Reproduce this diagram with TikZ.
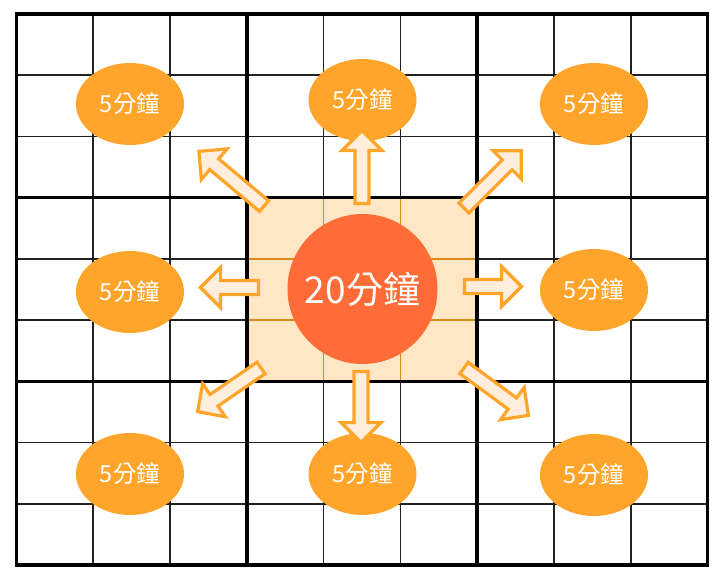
\documentclass[tikz,border=0pt]{standalone}
\usepackage{fontspec}
\setmainfont{Noto Sans CJK TC}
\usetikzlibrary{shapes.geometric}
\definecolor{ellorange}{HTML}{FFA52B}
\definecolor{circred}{HTML}{FF6C37}
\definecolor{blockfill}{HTML}{FFE6C4}
\definecolor{arrowfill}{HTML}{FFEEDC}
\definecolor{innerline}{HTML}{D98A1A}
\definecolor{thingrid}{HTML}{222222}
\tikzset{
  thinline/.style={draw=thingrid, line width=1.6pt},
  innerl/.style={draw=innerline, line width=1.4pt},
  thickline/.style={draw=black, line width=3.6pt, line cap=rect},
  smallbub/.style={ellipse, fill=ellorange, minimum width=108pt, minimum height=82pt, inner sep=0pt, text=white, font=\fontsize{23.5}{23.5}\selectfont},
  bigbub/.style={circle, fill=circred, minimum size=150pt, inner sep=0pt, text=white, font=\fontsize{37}{37}\selectfont},
  arrowst/.style={draw=ellorange, fill=arrowfill, line width=3.2pt, line join=miter},
}
\newcommand\barrow[4]{%
  \begin{scope}[shift={(#1,#2)},rotate=#3]
    \draw[arrowst] (0,-7) -- ({#4-20},-7) -- ({#4-20},-20) -- (#4,0) -- ({#4-20},20) -- ({#4-20},7) -- (0,7) -- cycle;
  \end{scope}}
\begin{document}
\begin{tikzpicture}[x=1pt,y=-1pt]
\useasboundingbox (0,0) rectangle (724,579);
\fill[white] (0,0) rectangle (724,579);
% centre block
\fill[blockfill] ({16.5+3*76.78},{14+3*61.22}) rectangle ({16.5+6*76.78},{14+6*61.22});
% thin grid lines
\foreach \i in {1,2,4,5,7,8} {
  \draw[thinline] ({16.5+\i*76.78},14) -- ({16.5+\i*76.78},565);
  \draw[thinline] (16.5,{14+\i*61.22}) -- (707.5,{14+\i*61.22});
}
% inner lines of centre block
\foreach \i in {4,5} {
  \draw[innerl] ({16.5+\i*76.78},{14+3*61.22}) -- ({16.5+\i*76.78},{14+6*61.22});
  \draw[innerl] ({16.5+3*76.78},{14+\i*61.22}) -- ({16.5+6*76.78},{14+\i*61.22});
}
% thick lines
\foreach \i in {0,3,6,9} {
  \draw[thickline] ({16.5+\i*76.78},14) -- ({16.5+\i*76.78},565);
  \draw[thickline] (16.5,{14+\i*61.22}) -- (707.5,{14+\i*61.22});
}
% bubbles
\node[bigbub] (c) at (362.5,289) {20分鐘};
\node[smallbub] (tl) at (130,104) {5分鐘};
\node[smallbub] (t) at (362.5,100) {5分鐘};
\node[smallbub] (tr) at (594,104) {5分鐘};
\node[smallbub] (l) at (130,292) {5分鐘};
\node[smallbub] (r) at (594,290) {5分鐘};
\node[smallbub] (bl) at (130,474) {5分鐘};
\node[smallbub] (b) at (362.5,474) {5分鐘};
\node[smallbub] (br) at (594,475) {5分鐘};
% arrows
\barrow{362}{203.5}{90}{73}
\barrow{361}{371.5}{-90}{71}
\barrow{258.5}{287.5}{180}{58}
\barrow{464.5}{286.5}{0}{57}
\barrow{264}{206}{140}{85}
\barrow{464}{208}{45}{81}
\barrow{261}{368}{-145.5}{77}
\barrow{464}{368}{-36.3}{80}
\end{tikzpicture}
\end{document}
